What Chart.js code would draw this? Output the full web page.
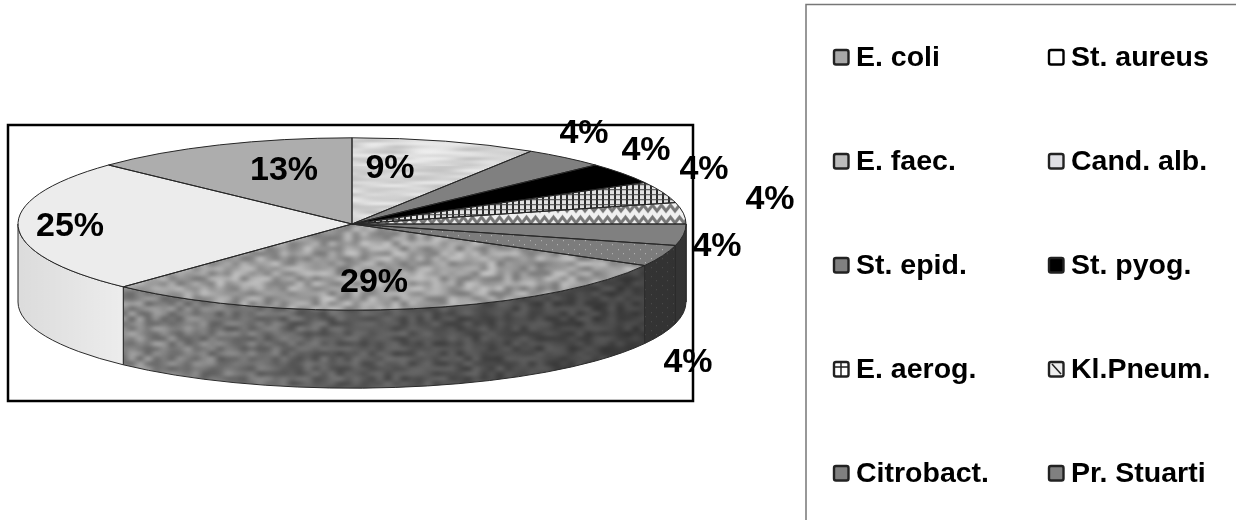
<!DOCTYPE html>
<html>
<head>
<meta charset="utf-8">
<title>Isolates</title>
<style>
  html, body { margin: 0; padding: 0; background: #fff; }
  canvas { display: block; }
</style>
<script src="https://cdn.jsdelivr.net/npm/chart.js@4"></script>
</head>
<body>
<canvas id="pie" width="1236" height="520"></canvas>
<script>
const organisms = ["E. coli", "St. aureus", "E. faec.", "Cand. alb.", "St. epid.", "St. pyog.", "E. aerog.", "Kl.Pneum.", "Citrobact.", "Pr. Stuarti"];
const shares = [29, 25, 13, 9, 4, 4, 4, 4, 4, 4];

// where each percentage sits, same order as organisms
const labelSpots = [[374, 283], [70, 227], [284, 171], [390, 169], [584, 134], [646, 151], [704, 170], [770, 200], [688, 363], [717, 247]];
const swatchColors = ["#a8a8a8", "#ffffff", "#bcbcbc", "#dfdfe4", "#808080", "#000000", "#ffffff", "#eeeeee", "#808080", "#808080"];

const tilt = 0.258;     // vertical squash of the disc
const depth = 78;       // wall height
const cx = 352, cy = 224;

const canvas = document.getElementById("pie");
const ctx = canvas.getContext("2d");

function squash(c) {
  c.translate(0, cy);
  c.scale(1, tilt);
  c.translate(0, -cy);
}

// hash based grain so the texture stays the same on every load
function grain(i, j, seed) {
  const s = Math.sin(i * 127.1 + j * 311.7 + seed) * 43758.5453;
  return s - Math.floor(s);
}

function noiseTile(base, amp, cellW, cellH, seed) {
  const w = Math.ceil(720 / cellW), h = Math.ceil(400 / cellH);
  const small = document.createElement("canvas");
  small.width = w;
  small.height = h;
  const sc = small.getContext("2d");
  for (let i = 0; i < w; i++) {
    for (let j = 0; j < h; j++) {
      const v = Math.round(base + (grain(i, j, seed) - 0.5) * 2 * amp);
      sc.fillStyle = `rgb(${v},${v},${v})`;
      sc.fillRect(i, j, 1, 1);
    }
  }
  const tile = document.createElement("canvas");
  tile.width = w * cellW;
  tile.height = h * cellH;
  const tc = tile.getContext("2d");
  tc.imageSmoothingEnabled = true;
  tc.imageSmoothingQuality = "high";
  tc.drawImage(small, 0, 0, tile.width, tile.height);
  return tile;
}

function tileFrom(w, h, paint) {
  const tile = document.createElement("canvas");
  tile.width = w;
  tile.height = h;
  paint(tile.getContext("2d"));
  return tile;
}

// patterns are countered against the squash so they keep their shape on the disc
function toPattern(tile) {
  const p = ctx.createPattern(tile, "repeat");
  p.setTransform(new DOMMatrix().scale(1, 1 / tilt));
  return p;
}

const granite = toPattern(noiseTile(158, 36, 8, 5, 1.3));
const streaks = toPattern(noiseTile(214, 24, 24, 3, 4.1));

const gridTile = tileFrom(6, 5, (c) => {
  c.fillStyle = "#e2e2e2";
  c.fillRect(0, 0, 6, 5);
  c.fillStyle = "#2a2a2a";
  c.fillRect(2, 0, 2, 5);
  c.fillStyle = "#444";
  c.fillRect(0, 3, 6, 1);
});

const zigzagTile = tileFrom(9, 12, (c) => {
  c.fillStyle = "#f0f0f0";
  c.fillRect(0, 0, 9, 12);
  c.strokeStyle = "#777";
  c.lineWidth = 3;
  c.beginPath();
  c.moveTo(-1, 10);
  c.lineTo(4.5, 3);
  c.lineTo(10, 10);
  c.stroke();
});

const dotsTile = tileFrom(11, 9, (c) => {
  c.fillStyle = "#7c7c7c";
  c.fillRect(0, 0, 11, 9);
  c.fillStyle = "#bdbdbd";
  c.fillRect(2, 2, 1, 1);
  c.fillRect(7, 6, 1, 1);
});

const sliceFills = ["" , "#ececec", "#adadad", "", "#808080", "#000000", "", "", "#808080", ""];
sliceFills[0] = granite;
sliceFills[3] = streaks;
sliceFills[6] = toPattern(gridTile);
sliceFills[7] = toPattern(zigzagTile);
sliceFills[9] = toPattern(dotsTile);

function sliceArcs(chart) {
  return chart.getDatasetMeta(0).data.map((el) =>
    el.getProps(["x", "y", "startAngle", "endAngle", "outerRadius"], true));
}

// the wall only shows on the front half of the disc
function frontSpan(s, e) {
  for (const shift of [0, Math.PI * 2]) {
    const a = Math.max(s, shift);
    const b = Math.min(e, shift + Math.PI);
    if (b > a) return [a, b];
  }
  return null;
}

const discPlugin = {
  id: "disc",
  beforeDraw(chart) {
    const c = chart.ctx;
    c.save();
    c.strokeStyle = "#000";
    c.lineWidth = 2.5;
    c.strokeRect(8, 125, 685, 276);
    c.strokeStyle = "#777";
    c.lineWidth = 1.5;
    c.beginPath();
    c.moveTo(806, 520);
    c.lineTo(806, 4.5);
    c.lineTo(1236, 4.5);
    c.stroke();
    c.restore();
  },
  beforeDatasetsDraw(chart) {
    const c = chart.ctx;
    const arcs = sliceArcs(chart);
    const rx = arcs[0].outerRadius, ry = rx * tilt;

    const shade = c.createLinearGradient(cx - rx, 0, cx + rx, 0);
    shade.addColorStop(0, "rgba(0,0,0,0.07)");
    shade.addColorStop(0.155, "rgba(0,0,0,0.0)");
    shade.addColorStop(0.157, "rgba(0,0,0,0.12)");
    shade.addColorStop(0.5, "rgba(0,0,0,0.42)");
    shade.addColorStop(0.93, "rgba(0,0,0,0.58)");
    shade.addColorStop(1, "rgba(0,0,0,0.6)");

    arcs.forEach((arc, i) => {
      const span = frontSpan(arc.startAngle, arc.endAngle);
      if (!span) return;
      const [a, b] = span;
      c.beginPath();
      c.ellipse(cx, cy, rx, ry, 0, a, b);
      c.lineTo(cx + rx * Math.cos(b), cy + ry * Math.sin(b) + depth);
      c.ellipse(cx, cy + depth, rx, ry, 0, b, a, true);
      c.closePath();
      c.save();
      squash(c);
      c.fillStyle = sliceFills[i];
      c.fill();
      c.restore();
      c.fillStyle = shade;
      c.fill();
      c.strokeStyle = "#2b2b2b";
      c.lineWidth = 1;
      c.stroke();
    });

    c.save();
    squash(c);
  },
  afterDatasetsDraw(chart) {
    const c = chart.ctx;
    c.restore();
    const arcs = sliceArcs(chart);
    c.strokeStyle = "#262626";
    c.lineWidth = 1;
    arcs.forEach((arc) => {
      const rx = arc.outerRadius;
      c.beginPath();
      c.moveTo(cx, cy);
      c.ellipse(cx, cy, rx, rx * tilt, 0, arc.startAngle, arc.endAngle);
      c.closePath();
      c.stroke();
    });
  },
  afterDraw(chart) {
    const c = chart.ctx;
    c.save();
    c.fillStyle = "#000";
    c.textAlign = "center";
    c.textBaseline = "middle";
    c.font = "bold 34px 'Liberation Sans'";
    shares.forEach((v, i) => {
      c.fillText(v + "%", labelSpots[i][0], labelSpots[i][1]);
    });
    drawLegend(c);
    c.restore();
  }
};

function drawLegend(c) {
  const colX = [833, 1048];
  organisms.forEach((name, i) => {
    const x = colX[i % 2];
    const y = 57 + Math.floor(i / 2) * 104;
    c.beginPath();
    c.roundRect(x + 1, y - 7, 14.5, 14.5, 2);
    c.fillStyle = swatchColors[i];
    c.fill();
    c.strokeStyle = i === 1 ? "#000" : "#222";
    c.lineWidth = 2.4;
    c.stroke();
    c.lineWidth = 1.5;
    if (name === "E. aerog.") {
      c.beginPath();
      c.moveTo(x + 8, y - 6);
      c.lineTo(x + 8, y + 7);
      c.moveTo(x + 1, y - 2);
      c.lineTo(x + 15, y - 2);
      c.stroke();
    }
    if (name === "Kl.Pneum.") {
      c.beginPath();
      c.moveTo(x + 4, y - 5);
      c.lineTo(x + 13, y + 5);
      c.stroke();
    }
    c.fillStyle = "#000";
    c.textAlign = "left";
    c.textBaseline = "middle";
    c.font = "bold 28.5px 'Liberation Sans'";
    c.fillText(name, x + 23, y + 1);
  });
}

new Chart(ctx, {
  type: "pie",
  data: {
    labels: organisms,
    datasets: [{
      data: shares,
      backgroundColor: sliceFills,
      borderWidth: 0,
      clip: false,
    }],
  },
  options: {
    responsive: false,
    animation: false,
    rotation: 118.8,
    radius: 334,
    layout: { padding: { left: 0, right: 532, top: 0, bottom: 72 } },
    plugins: { legend: { display: false }, tooltip: { enabled: false } },
  },
  plugins: [discPlugin],
});
</script>
</body>
</html>
